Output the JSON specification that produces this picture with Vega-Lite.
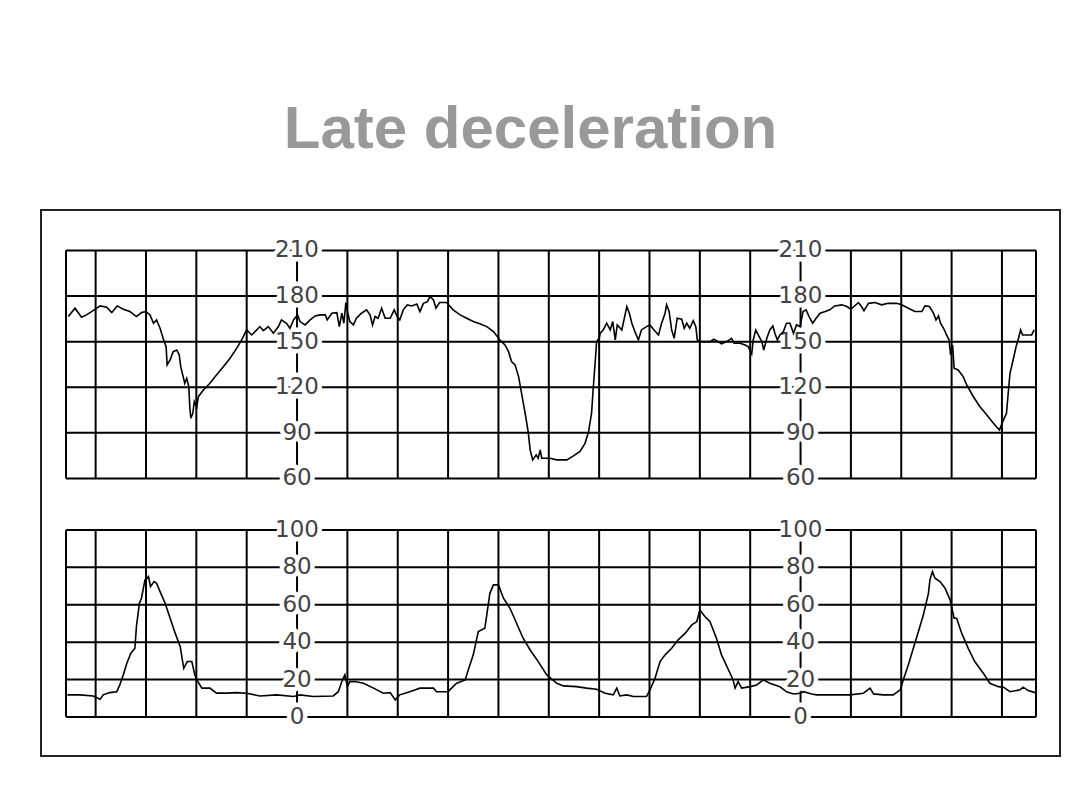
{
  "$schema": "https://vega.github.io/schema/vega-lite/v6.json",
  "width": 1019,
  "height": 546,
  "autosize": {"type": "none"},
  "padding": {"left": 41, "top": 210, "right": 20, "bottom": 54},
  "background": "white",
  "config": {"view": {"stroke": "#222222", "strokeWidth": 2}},
  "title": {"text": "Late deceleration", "font": "Liberation Sans", "fontSize": 60, "fontWeight": "bold", "color": "#999999", "anchor": "middle", "dx": -20, "offset": 2, "baseline": "alphabetic"},
  "datasets": {
    "fhrGrid": [{"v": 60}, {"v": 90}, {"v": 120}, {"v": 150}, {"v": 180}, {"v": 210}],
    "uaGrid": [{"v": 0}, {"v": 20}, {"v": 40}, {"v": 60}, {"v": 80}, {"v": 100}],
    "vlines": [{"t": 0.411}, {"t": 1}, {"t": 2}, {"t": 3}, {"t": 4}, {"t": 5}, {"t": 6}, {"t": 7}, {"t": 8}, {"t": 9}, {"t": 10}, {"t": 11}, {"t": 12}, {"t": 13}, {"t": 14}, {"t": 15}, {"t": 16}, {"t": 17}, {"t": 18}, {"t": 19}, {"t": 19.676}],
    "fhrLabels": [{"t": 5, "v": 210}, {"t": 5, "v": 180}, {"t": 5, "v": 150}, {"t": 5, "v": 120}, {"t": 5, "v": 90}, {"t": 5, "v": 60}, {"t": 15, "v": 210}, {"t": 15, "v": 180}, {"t": 15, "v": 150}, {"t": 15, "v": 120}, {"t": 15, "v": 90}, {"t": 15, "v": 60}],
    "uaLabels": [{"t": 5, "v": 100}, {"t": 5, "v": 80}, {"t": 5, "v": 60}, {"t": 5, "v": 40}, {"t": 5, "v": 20}, {"t": 5, "v": 0}, {"t": 15, "v": 100}, {"t": 15, "v": 80}, {"t": 15, "v": 60}, {"t": 15, "v": 40}, {"t": 15, "v": 20}, {"t": 15, "v": 0}],
    "fhr": [
      {"t": 0.457, "v": 166.5}, {"t": 0.59, "v": 172}, {"t": 0.72, "v": 166}, {"t": 0.82, "v": 167.6}, {"t": 0.95, "v": 170.4}, {"t": 1.09, "v": 173.5}, {"t": 1.22, "v": 172.6}, {"t": 1.32, "v": 169.1}, {"t": 1.43, "v": 173.5}, {"t": 1.55, "v": 171.3}, {"t": 1.68, "v": 169.8}, {"t": 1.81, "v": 166.5}, {"t": 1.91, "v": 169.1}, {"t": 2.0, "v": 169.8}, {"t": 2.08, "v": 167.6}, {"t": 2.15, "v": 162.1}, {"t": 2.21, "v": 164.3}, {"t": 2.28, "v": 158.8}, {"t": 2.34, "v": 152.2}, {"t": 2.4, "v": 146.7}, {"t": 2.42, "v": 134.7}, {"t": 2.48, "v": 138}, {"t": 2.54, "v": 143.4}, {"t": 2.61, "v": 144.5}, {"t": 2.66, "v": 141.3}, {"t": 2.69, "v": 133.6}, {"t": 2.73, "v": 128.1}, {"t": 2.77, "v": 122.6}, {"t": 2.81, "v": 125.9}, {"t": 2.85, "v": 120.4}, {"t": 2.87, "v": 107.3}, {"t": 2.89, "v": 99.6}, {"t": 2.93, "v": 102.9}, {"t": 2.96, "v": 110.6}, {"t": 3.01, "v": 107.3}, {"t": 3.04, "v": 113.8}, {"t": 3.14, "v": 118.2}, {"t": 3.27, "v": 122.6}, {"t": 3.4, "v": 128.1}, {"t": 3.54, "v": 133.6}, {"t": 3.67, "v": 139.1}, {"t": 3.8, "v": 145.6}, {"t": 3.9, "v": 151.1}, {"t": 4.0, "v": 157.7}, {"t": 4.1, "v": 154.4}, {"t": 4.2, "v": 157.7}, {"t": 4.26, "v": 159.9}, {"t": 4.33, "v": 157.3}, {"t": 4.43, "v": 159.9}, {"t": 4.53, "v": 155.5}, {"t": 4.63, "v": 159.9}, {"t": 4.69, "v": 164.3}, {"t": 4.79, "v": 162.1}, {"t": 4.86, "v": 158.8}, {"t": 4.93, "v": 164.3}, {"t": 5.01, "v": 167.6}, {"t": 5.06, "v": 163.2}, {"t": 5.16, "v": 161}, {"t": 5.26, "v": 164.3}, {"t": 5.36, "v": 166.9},
      {"t": 5.46, "v": 167.6}, {"t": 5.56, "v": 167.6}, {"t": 5.6, "v": 164.3}, {"t": 5.69, "v": 168.7}, {"t": 5.79, "v": 169.1}, {"t": 5.84, "v": 159.9}, {"t": 5.89, "v": 168.7}, {"t": 5.93, "v": 162.1}, {"t": 5.97, "v": 175.7}, {"t": 6.0, "v": 169.8}, {"t": 6.05, "v": 163.2}, {"t": 6.12, "v": 161}, {"t": 6.18, "v": 165.4}, {"t": 6.28, "v": 168.7}, {"t": 6.38, "v": 170.9}, {"t": 6.45, "v": 167.6}, {"t": 6.5, "v": 161}, {"t": 6.55, "v": 166.5}, {"t": 6.61, "v": 165.4}, {"t": 6.68, "v": 172}, {"t": 6.75, "v": 165.4}, {"t": 6.85, "v": 165.4}, {"t": 6.93, "v": 170.9}, {"t": 6.99, "v": 166.5}, {"t": 7.04, "v": 164.3}, {"t": 7.11, "v": 170.9}, {"t": 7.19, "v": 174.2}, {"t": 7.28, "v": 173.5}, {"t": 7.38, "v": 174.8}, {"t": 7.44, "v": 169.8}, {"t": 7.51, "v": 175.2}, {"t": 7.59, "v": 176.3}, {"t": 7.64, "v": 179.6}, {"t": 7.71, "v": 177.4}, {"t": 7.76, "v": 172}, {"t": 7.83, "v": 175.7}, {"t": 7.97, "v": 175.7}, {"t": 8.1, "v": 170.9}, {"t": 8.24, "v": 167.6}, {"t": 8.37, "v": 165.4}, {"t": 8.5, "v": 163.2}, {"t": 8.63, "v": 161.7}, {"t": 8.77, "v": 159.9}, {"t": 8.9, "v": 156.6}, {"t": 9.03, "v": 151.1}, {"t": 9.13, "v": 147.8}, {"t": 9.2, "v": 143.4}, {"t": 9.26, "v": 136.9}, {"t": 9.33, "v": 134.7}, {"t": 9.4, "v": 127}, {"t": 9.46, "v": 116}, {"t": 9.53, "v": 102.9}, {"t": 9.59, "v": 90.8}, {"t": 9.63, "v": 78.8}, {"t": 9.68, "v": 72.2}, {"t": 9.75, "v": 75.5}, {"t": 9.79, "v": 73.3}, {"t": 9.83, "v": 78.8}, {"t": 9.86, "v": 73.3}, {"t": 10.02, "v": 73.3}, {"t": 10.16, "v": 72.2}, {"t": 10.36, "v": 72.2}, {"t": 10.49, "v": 74.8}, {"t": 10.62, "v": 77.7}, {"t": 10.72, "v": 83.1}, {"t": 10.79, "v": 90.8}, {"t": 10.85, "v": 102.9}, {"t": 10.88, "v": 118.2}, {"t": 10.92, "v": 135.8}, {"t": 10.95, "v": 150}, {"t": 11.0, "v": 152.2},
      {"t": 11.02, "v": 155.5}, {"t": 11.08, "v": 157.7}, {"t": 11.15, "v": 162.1}, {"t": 11.22, "v": 157.7}, {"t": 11.27, "v": 163.2}, {"t": 11.32, "v": 151.1}, {"t": 11.36, "v": 161}, {"t": 11.45, "v": 157.7}, {"t": 11.55, "v": 173.1}, {"t": 11.6, "v": 168.7}, {"t": 11.65, "v": 162.1}, {"t": 11.71, "v": 156.6}, {"t": 11.78, "v": 151.1}, {"t": 11.84, "v": 157.7}, {"t": 11.94, "v": 159.9}, {"t": 12.01, "v": 161}, {"t": 12.09, "v": 157.7}, {"t": 12.18, "v": 154.4}, {"t": 12.24, "v": 162.1}, {"t": 12.31, "v": 168.7}, {"t": 12.34, "v": 174.2}, {"t": 12.39, "v": 169.8}, {"t": 12.44, "v": 157.7}, {"t": 12.49, "v": 152.2}, {"t": 12.55, "v": 165.4}, {"t": 12.64, "v": 164.7}, {"t": 12.69, "v": 158.8}, {"t": 12.74, "v": 162.1}, {"t": 12.8, "v": 158.8}, {"t": 12.87, "v": 163.8}, {"t": 12.92, "v": 159.9}, {"t": 12.95, "v": 151.1}, {"t": 13.0, "v": 150}, {"t": 13.2, "v": 150}, {"t": 13.28, "v": 151.6}, {"t": 13.33, "v": 150.7}, {"t": 13.43, "v": 148.5}, {"t": 13.53, "v": 150}, {"t": 13.63, "v": 152.2}, {"t": 13.68, "v": 148.9}, {"t": 13.8, "v": 148.9}, {"t": 13.9, "v": 147.8}, {"t": 13.96, "v": 146.7}, {"t": 14.03, "v": 141.9}, {"t": 14.06, "v": 151.1}, {"t": 14.11, "v": 157.7}, {"t": 14.16, "v": 154.4}, {"t": 14.23, "v": 150}, {"t": 14.27, "v": 144.5}, {"t": 14.33, "v": 152.2}, {"t": 14.39, "v": 157.7}, {"t": 14.45, "v": 160.3}, {"t": 14.49, "v": 155.5}, {"t": 14.54, "v": 151.1}, {"t": 14.59, "v": 154.4}, {"t": 14.66, "v": 156.6}, {"t": 14.72, "v": 162.1}, {"t": 14.79, "v": 162.1}, {"t": 14.86, "v": 155.5}, {"t": 14.92, "v": 161}, {"t": 14.99, "v": 159.9}, {"t": 15.05, "v": 169.8}, {"t": 15.11, "v": 170.9}, {"t": 15.17, "v": 166.5}, {"t": 15.24, "v": 162.1}, {"t": 15.31, "v": 165.4}, {"t": 15.39, "v": 168.7}, {"t": 15.49, "v": 169.8}, {"t": 15.58, "v": 170.9}, {"t": 15.68, "v": 173.5}, {"t": 15.82, "v": 174.2}, {"t": 15.92, "v": 173.1}, {"t": 16.0, "v": 171.3},
      {"t": 16.06, "v": 173.1}, {"t": 16.15, "v": 175.7}, {"t": 16.21, "v": 173.1}, {"t": 16.26, "v": 170.4}, {"t": 16.35, "v": 175.2}, {"t": 16.48, "v": 175.7}, {"t": 16.61, "v": 174.2}, {"t": 16.74, "v": 175.2}, {"t": 16.91, "v": 175.2}, {"t": 17.01, "v": 174.2}, {"t": 17.14, "v": 172}, {"t": 17.27, "v": 169.8}, {"t": 17.41, "v": 169.8}, {"t": 17.47, "v": 173.5}, {"t": 17.56, "v": 173.1}, {"t": 17.64, "v": 168.7}, {"t": 17.69, "v": 164.3}, {"t": 17.74, "v": 166.9}, {"t": 17.78, "v": 162.1}, {"t": 17.84, "v": 158.8}, {"t": 17.9, "v": 154.4}, {"t": 17.95, "v": 151.1}, {"t": 17.98, "v": 141.3}, {"t": 18.02, "v": 147.8}, {"t": 18.05, "v": 132.5}, {"t": 18.13, "v": 131.4}, {"t": 18.23, "v": 127}, {"t": 18.3, "v": 121.5}, {"t": 18.43, "v": 113.9}, {"t": 18.56, "v": 107.3}, {"t": 18.7, "v": 101.8}, {"t": 18.83, "v": 96.3}, {"t": 18.95, "v": 91.9}, {"t": 19.03, "v": 98.5}, {"t": 19.09, "v": 102.9}, {"t": 19.13, "v": 118.2}, {"t": 19.16, "v": 129.2}, {"t": 19.23, "v": 139.1}, {"t": 19.28, "v": 146.7}, {"t": 19.33, "v": 152.2}, {"t": 19.37, "v": 157.7}, {"t": 19.41, "v": 154.4}, {"t": 19.59, "v": 154.4}, {"t": 19.64, "v": 157.7}
    ],
    "ua": [
      {"t": 0.44, "v": 11.8}, {"t": 0.69, "v": 11.8}, {"t": 0.95, "v": 11.2}, {"t": 1.09, "v": 9.5}, {"t": 1.15, "v": 11.8}, {"t": 1.28, "v": 13}, {"t": 1.42, "v": 13.5}, {"t": 1.48, "v": 17.1}, {"t": 1.55, "v": 22.5}, {"t": 1.62, "v": 28.7}, {"t": 1.7, "v": 34.1}, {"t": 1.78, "v": 36.7}, {"t": 1.81, "v": 48.3}, {"t": 1.87, "v": 60.8}, {"t": 1.91, "v": 63.5}, {"t": 1.98, "v": 73.3}, {"t": 2.05, "v": 75.1}, {"t": 2.09, "v": 69.7}, {"t": 2.16, "v": 72.4}, {"t": 2.21, "v": 71.5}, {"t": 2.28, "v": 67}, {"t": 2.38, "v": 60.8}, {"t": 2.48, "v": 52.8}, {"t": 2.58, "v": 44.8}, {"t": 2.68, "v": 37.6}, {"t": 2.75, "v": 26}, {"t": 2.82, "v": 29.6}, {"t": 2.91, "v": 29.6}, {"t": 2.97, "v": 22.5}, {"t": 3.01, "v": 19.8}, {"t": 3.11, "v": 15.4}, {"t": 3.27, "v": 15.4}, {"t": 3.4, "v": 12.7}, {"t": 3.6, "v": 12.7}, {"t": 3.8, "v": 13}, {"t": 4.0, "v": 12.7}, {"t": 4.26, "v": 11.2}, {"t": 4.6, "v": 11.8}, {"t": 4.93, "v": 10.9}, {"t": 5.06, "v": 11.8}, {"t": 5.32, "v": 10.9}, {"t": 5.72, "v": 11.2}, {"t": 5.82, "v": 13.5}, {"t": 5.89, "v": 18.9}, {"t": 5.95, "v": 22.5}, {"t": 6.0, "v": 16.2}, {"t": 6.05, "v": 18.9}, {"t": 6.15, "v": 18.9}, {"t": 6.32, "v": 18}, {"t": 6.52, "v": 15.4}, {"t": 6.71, "v": 12.7}, {"t": 6.85, "v": 13}, {"t": 6.95, "v": 9.1}, {"t": 7.04, "v": 11.8}, {"t": 7.24, "v": 13.5}, {"t": 7.44, "v": 15.4}, {"t": 7.71, "v": 15.4}, {"t": 7.77, "v": 13.5}, {"t": 8.0, "v": 13.5}, {"t": 8.17, "v": 18}, {"t": 8.34, "v": 19.8}, {"t": 8.4, "v": 25.1}, {"t": 8.5, "v": 33.2}, {"t": 8.6, "v": 45.6}, {"t": 8.73, "v": 47.4}, {"t": 8.83, "v": 66.1}, {"t": 8.9, "v": 70.6}, {"t": 9.0, "v": 70.6}, {"t": 9.1, "v": 63.5}, {"t": 9.23, "v": 58.1}, {"t": 9.36, "v": 50.1}, {"t": 9.49, "v": 42.1}, {"t": 9.63, "v": 35.8}, {"t": 9.79, "v": 29.6}, {"t": 9.96, "v": 22.5},
      {"t": 10.16, "v": 18}, {"t": 10.29, "v": 16.6}, {"t": 10.55, "v": 16.2}, {"t": 10.75, "v": 15.4}, {"t": 10.95, "v": 14.8}, {"t": 11.12, "v": 12.7}, {"t": 11.28, "v": 11.8}, {"t": 11.35, "v": 15.4}, {"t": 11.41, "v": 11.2}, {"t": 11.55, "v": 11.8}, {"t": 11.68, "v": 10.9}, {"t": 11.94, "v": 10.9}, {"t": 12.01, "v": 14.5}, {"t": 12.11, "v": 20.7}, {"t": 12.21, "v": 29.6}, {"t": 12.31, "v": 33.2}, {"t": 12.44, "v": 36.7}, {"t": 12.57, "v": 41.2}, {"t": 12.71, "v": 44.8}, {"t": 12.84, "v": 49.2}, {"t": 12.94, "v": 51}, {"t": 13.0, "v": 57.2}, {"t": 13.1, "v": 53.7}, {"t": 13.2, "v": 51}, {"t": 13.33, "v": 42.1}, {"t": 13.43, "v": 33.2}, {"t": 13.57, "v": 25.1}, {"t": 13.66, "v": 19.8}, {"t": 13.7, "v": 15.4}, {"t": 13.76, "v": 18.9}, {"t": 13.83, "v": 15.4}, {"t": 14.0, "v": 16.2}, {"t": 14.13, "v": 17.1}, {"t": 14.26, "v": 19.8}, {"t": 14.39, "v": 18}, {"t": 14.59, "v": 16.2}, {"t": 14.72, "v": 13.5}, {"t": 14.86, "v": 12.3}, {"t": 14.99, "v": 12.7}, {"t": 15.06, "v": 13.5}, {"t": 15.22, "v": 12.3}, {"t": 15.32, "v": 11.8}, {"t": 15.98, "v": 11.8}, {"t": 16.25, "v": 12.7}, {"t": 16.38, "v": 15.4}, {"t": 16.45, "v": 12.3}, {"t": 16.64, "v": 11.8}, {"t": 16.84, "v": 11.8}, {"t": 16.98, "v": 14.5}, {"t": 17.04, "v": 19.8}, {"t": 17.14, "v": 27.8}, {"t": 17.24, "v": 36.7}, {"t": 17.34, "v": 45.6}, {"t": 17.44, "v": 54.6}, {"t": 17.54, "v": 66.1}, {"t": 17.57, "v": 73.3}, {"t": 17.62, "v": 77.7}, {"t": 17.67, "v": 74.2}, {"t": 17.77, "v": 72.4}, {"t": 17.87, "v": 68.8}, {"t": 17.97, "v": 62.6}, {"t": 18.05, "v": 52.8}, {"t": 18.1, "v": 52.8}, {"t": 18.2, "v": 44.8}, {"t": 18.33, "v": 36.7}, {"t": 18.46, "v": 29.6}, {"t": 18.63, "v": 23.4}, {"t": 18.76, "v": 18}, {"t": 18.93, "v": 16.2}, {"t": 19.03, "v": 15.9}, {"t": 19.16, "v": 13.5}, {"t": 19.36, "v": 14.5}, {"t": 19.42, "v": 15.9}, {"t": 19.52, "v": 14.1}, {"t": 19.66, "v": 13}
    ]
  },
  "layer": [
    {
      "layer": [
        {
          "data": {"name": "fhrGrid"},
          "mark": {"type": "rule", "color": "#000000", "strokeWidth": 2},
          "encoding": {
            "x": {"datum": 0.411, "type": "quantitative", "scale": {"domain": [-0.085, 20.153], "nice": false, "zero": false}, "axis": null},
            "x2": {"datum": 19.676},
            "y": {"field": "v", "type": "quantitative", "scale": {"domain": [-122.6, 236.6], "nice": false, "zero": false}, "axis": null}
          }
        },
        {
          "data": {"name": "vlines"},
          "mark": {"type": "rule", "color": "#000000", "strokeWidth": 2},
          "encoding": {
            "x": {"field": "t", "type": "quantitative", "axis": null},
            "y": {"datum": 60, "type": "quantitative", "axis": null},
            "y2": {"datum": 210}
          }
        },
        {
          "data": {"name": "fhrLabels"},
          "mark": {"type": "text", "font": "DejaVu Sans", "fontSize": 23, "fill": "#ffffff", "stroke": "#ffffff", "strokeWidth": 9, "strokeJoin": "round", "baseline": "middle", "align": "center"},
          "encoding": {
            "x": {"field": "t", "type": "quantitative", "axis": null},
            "y": {"field": "v", "type": "quantitative", "axis": null},
            "text": {"field": "v", "type": "quantitative"}
          }
        },
        {
          "data": {"name": "fhrLabels"},
          "mark": {"type": "text", "font": "DejaVu Sans", "fontSize": 23, "color": "#444444", "baseline": "middle", "align": "center"},
          "encoding": {
            "x": {"field": "t", "type": "quantitative", "axis": null},
            "y": {"field": "v", "type": "quantitative", "axis": null},
            "text": {"field": "v", "type": "quantitative"}
          }
        },
        {
          "data": {"name": "fhr"},
          "mark": {"type": "line", "color": "#000000", "strokeWidth": 1.6},
          "encoding": {
            "x": {"field": "t", "type": "quantitative", "axis": null},
            "y": {"field": "v", "type": "quantitative", "axis": null}
          }
        }
      ]
    },
    {
      "layer": [
        {
          "data": {"name": "uaGrid"},
          "mark": {"type": "rule", "color": "#000000", "strokeWidth": 2},
          "encoding": {
            "x": {"datum": 0.411, "type": "quantitative", "axis": null},
            "x2": {"datum": 19.676},
            "y": {"field": "v", "type": "quantitative", "scale": {"domain": [-20.9, 271.1], "nice": false, "zero": false}, "axis": null}
          }
        },
        {
          "data": {"name": "vlines"},
          "mark": {"type": "rule", "color": "#000000", "strokeWidth": 2},
          "encoding": {
            "x": {"field": "t", "type": "quantitative", "axis": null},
            "y": {"datum": 0, "type": "quantitative", "axis": null},
            "y2": {"datum": 100}
          }
        },
        {
          "data": {"name": "uaLabels"},
          "mark": {"type": "text", "font": "DejaVu Sans", "fontSize": 23, "fill": "#ffffff", "stroke": "#ffffff", "strokeWidth": 9, "strokeJoin": "round", "baseline": "middle", "align": "center"},
          "encoding": {
            "x": {"field": "t", "type": "quantitative", "axis": null},
            "y": {"field": "v", "type": "quantitative", "axis": null},
            "text": {"field": "v", "type": "quantitative"}
          }
        },
        {
          "data": {"name": "uaLabels"},
          "mark": {"type": "text", "font": "DejaVu Sans", "fontSize": 23, "color": "#444444", "baseline": "middle", "align": "center"},
          "encoding": {
            "x": {"field": "t", "type": "quantitative", "axis": null},
            "y": {"field": "v", "type": "quantitative", "axis": null},
            "text": {"field": "v", "type": "quantitative"}
          }
        },
        {
          "data": {"name": "ua"},
          "mark": {"type": "line", "color": "#000000", "strokeWidth": 1.6},
          "encoding": {
            "x": {"field": "t", "type": "quantitative", "axis": null},
            "y": {"field": "v", "type": "quantitative", "axis": null}
          }
        }
      ]
    }
  ],
  "resolve": {"scale": {"y": "independent"}}
}
